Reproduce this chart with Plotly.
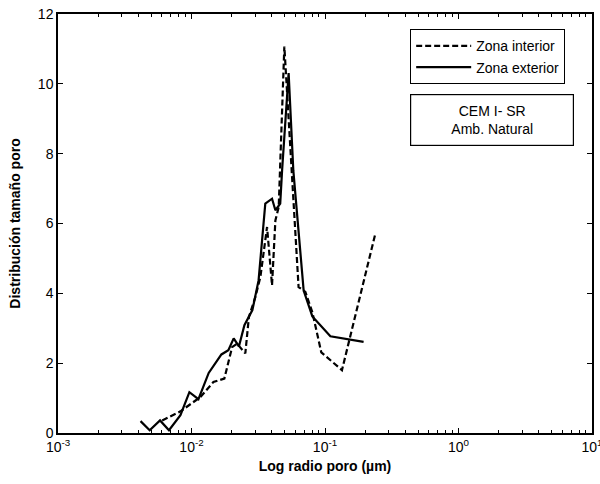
import plotly.graph_objects as go

# Zona interior (dashed)
x_interior = [0.00603, 0.00826, 0.01166, 0.01459, 0.01762, 0.02014, 0.02193, 0.0253,
              0.0269, 0.0301, 0.0328, 0.0368, 0.0401, 0.0425, 0.045, 0.0496,
              0.0634, 0.0713, 0.0804, 0.0938, 0.134, 0.2377]
y_interior = [0.36, 0.62, 1.03, 1.46, 1.56, 2.46, 2.56, 2.28,
              3.32, 3.90, 4.47, 5.90, 4.23, 6.09, 6.47, 11.07,
              4.18, 4.04, 3.46, 2.31, 1.80, 5.69]

# Zona exterior (solid)
x_exterior = [0.00415, 0.00486, 0.00581, 0.00678, 0.00826, 0.00964, 0.01127, 0.01345,
              0.01675, 0.01888, 0.0207, 0.02265, 0.0249, 0.02858, 0.0318, 0.0357,
              0.0401, 0.0425, 0.0462, 0.0477, 0.0534, 0.0579, 0.0692, 0.0804,
              0.1097, 0.1946]
y_exterior = [0.34, 0.08, 0.36, 0.08, 0.51, 1.17, 0.97, 1.72,
              2.25, 2.37, 2.71, 2.48, 3.09, 3.52, 4.37, 6.57,
              6.71, 6.38, 6.57, 7.52, 10.31, 7.52, 4.08, 3.34,
              2.77, 2.61]

x_ticks = [0.001, 0.01, 0.1, 1, 10]
x_ticktext = ["10<sup>-3</sup>", "10<sup>-2</sup>", "10<sup>-1</sup>", "10<sup>0</sup>", "10<sup>1</sup>"]
x_minor = [m * d for d in [0.001, 0.01, 0.1, 1] for m in range(2, 10)]
y_ticks = [0, 2, 4, 6, 8, 10, 12]

FONT = "Liberation Sans, Arial, sans-serif"

fig = go.Figure()
fig.add_trace(go.Scatter(x=x_interior, y=y_interior, mode="lines", name="Zona interior",
                         line=dict(color="black", width=2.2, dash="6px,3px")))
fig.add_trace(go.Scatter(x=x_exterior, y=y_exterior, mode="lines", name="Zona exterior",
                         line=dict(color="black", width=2.2)))

fig.update_layout(
    width=600, height=484,
    margin=dict(l=57.5, r=8, t=14, b=51, autoexpand=False),
    paper_bgcolor="white", plot_bgcolor="white",
    font=dict(family=FONT, size=14, color="black"),
    showlegend=True,
    legend=dict(x=0.6595, y=0.9635, xanchor="left", yanchor="top",
                bordercolor="black", borderwidth=1, bgcolor="white",
                font=dict(size=14), itemwidth=55, tracegroupgap=0),
    xaxis=dict(type="log", range=[-3.0002, 1.0002], tickvals=x_ticks, ticktext=x_ticktext,
               ticks="inside", ticklen=5, tickcolor="black", showline=True,
               linecolor="black", linewidth=1.5, mirror="ticks", showgrid=False, zeroline=False,
               ticklabeloverflow="allow", automargin=False,
               minor=dict(tickvals=x_minor, ticks="inside", ticklen=3, tickcolor="black",
                          showgrid=False),
               title=dict(text="<b>Log radio poro (µm)</b>", font=dict(size=14), standoff=8)),
    yaxis=dict(range=[0, 12], tickvals=y_ticks, ticks="inside", ticklen=5, tickcolor="black",
               showline=True, linecolor="black", linewidth=1.5, mirror="ticks",
               showgrid=False, zeroline=False, automargin=False,
               title=dict(text="<b>Distribución tamaño poro</b>", font=dict(size=14), standoff=14)),
)

fig.add_annotation(xref="paper", yref="paper", x=(491.5 - 57.5) / 534.5, y=(433 - 120) / 419,
                   xanchor="center", yanchor="middle",
                   text="CEM I- SR<br>Amb. Natural", showarrow=False, align="center",
                   font=dict(size=14), bordercolor="black", borderwidth=1.2,
                   width=160, height=48, bgcolor="white")

fig.write_html("out.html")
